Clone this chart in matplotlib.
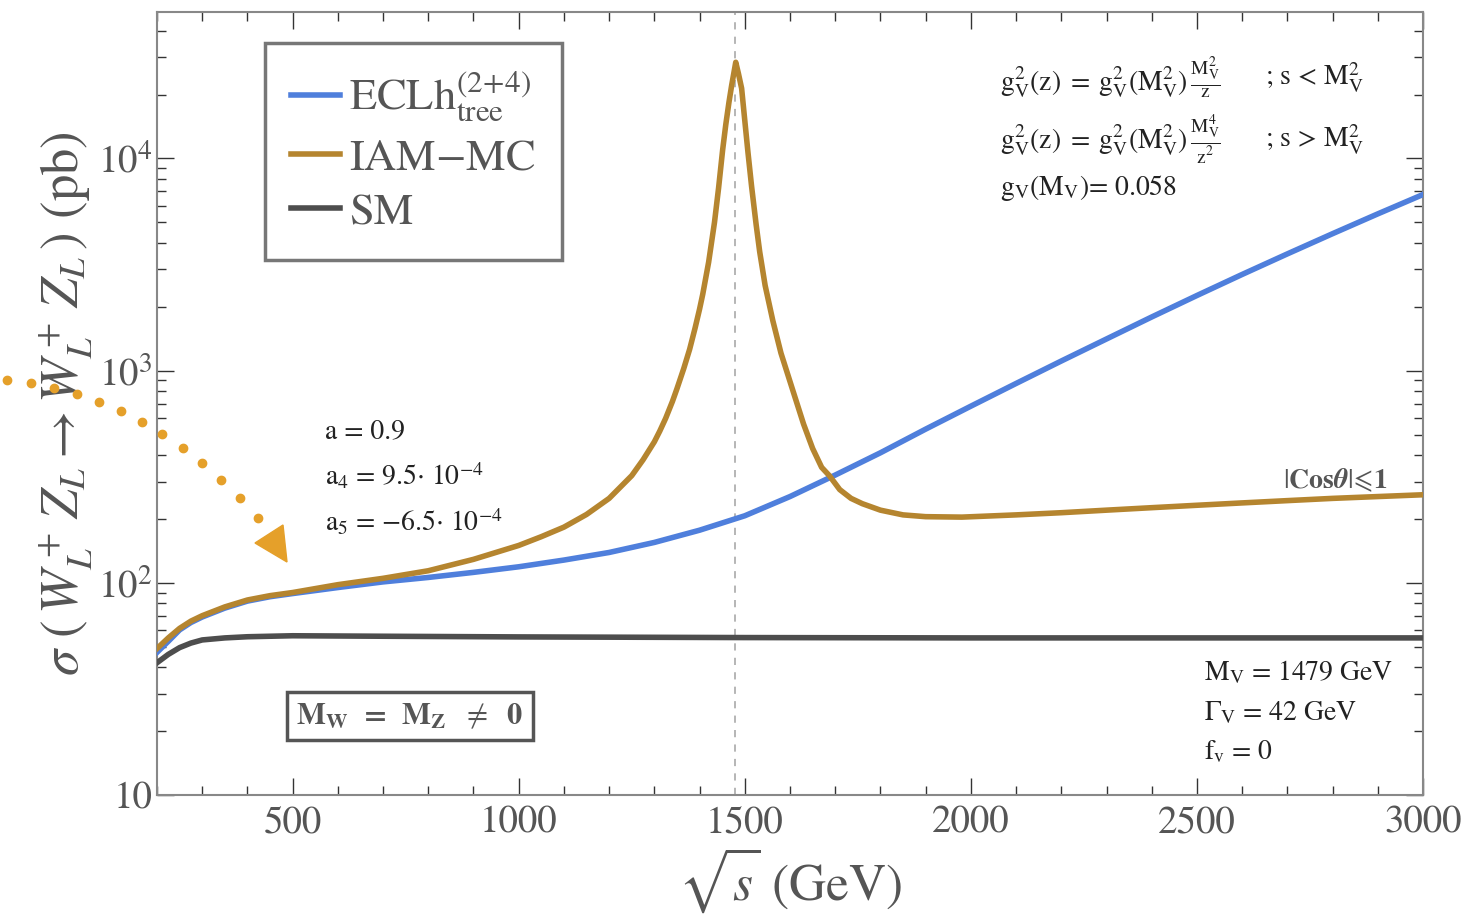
import numpy as np
import matplotlib
matplotlib.use("Agg")
import matplotlib.pyplot as plt
from matplotlib.ticker import FixedLocator, FuncFormatter, MultipleLocator
from matplotlib.patches import Polygon

plt.rcParams['font.family'] = ['STIXGeneral', 'DejaVu Serif']
plt.rcParams['mathtext.fontset'] = 'stix'

# values (sqrt(s) in GeV, sigma in pb)
x_ecl = [200, 225, 250, 275, 300, 350, 400, 450, 500, 600, 700, 800, 900, 1000, 1100, 1200,
         1300, 1400, 1500, 1600, 1700, 1800, 1900, 2000, 2100, 2200, 2300, 2400, 2500, 2600,
         2700, 2800, 2900, 3000]
y_ecl = [47, 53, 60, 65, 69, 76, 82, 86, 89, 95, 101, 106, 112, 119, 128, 139,
         155, 177, 207, 255, 322, 410, 530, 680, 870, 1110, 1410, 1790, 2260, 2840,
         3550, 4420, 5480, 6760]

x_iam = [200, 225, 250, 275, 300, 350, 400, 450, 500, 600, 700, 800, 900, 1000, 1050, 1100,
         1150, 1200, 1250, 1275, 1300, 1312, 1325, 1340, 1350, 1365, 1378, 1390, 1400, 1407,
         1420, 1433, 1442, 1451, 1458, 1465, 1471, 1476, 1480, 1486, 1493, 1500, 1507, 1515,
         1525, 1533, 1545, 1562, 1580, 1606, 1630, 1650, 1670, 1687, 1710, 1735, 1760, 1800,
         1850, 1900, 1980, 2100, 2200, 2300, 2400, 2500, 2600, 2700, 2800, 2900, 3000]
y_iam = [49, 55, 61, 66, 70, 77, 83, 87, 90, 98, 105, 114, 129, 150, 165, 183,
         210, 250, 320, 380, 462, 519, 596, 716, 822, 1023, 1260, 1585, 1950, 2290,
         3240, 5000, 7240, 10960, 14450, 18400, 22130, 25400, 28400, 25100, 21400, 15100, 10700, 7400,
         4900, 3630, 2520, 1720, 1210, 810, 560, 430, 350, 320, 275, 250, 236, 220,
         209, 205, 204, 209, 214, 220, 226, 232, 238, 244, 250, 255, 260]

x_sm = [200, 225, 250, 275, 300, 350, 400, 500, 700, 1000, 1500, 2000, 3000]
y_sm = [42, 46, 49.5, 52, 53.8, 55, 55.7, 56.3, 56, 55.6, 55.2, 55, 55]

m_v = 1479

fig = plt.figure(figsize=(14.68, 9.17), dpi=100)
ax = fig.add_axes([157/1468, 1-795/917, (1423-157)/1468, (795-12)/917])

blue = '#4f7fdc'
gold = '#b5852f'
dark = '#4d4d4d'
ax.axvline(m_v, color='#b0b0b0', ls=(0, (4, 4)), lw=1.3, zorder=1)
ax.plot(x_ecl, y_ecl, color=blue, lw=4, label=r'ECLh$^{(2\!+\!4)}_{\rm tree}$', zorder=3,
        solid_joinstyle='round')
ax.plot(x_iam, y_iam, color=gold, lw=4, label=r'IAM$-$MC', zorder=4, solid_joinstyle='round')
ax.plot(x_sm, y_sm, color=dark, lw=4, label='SM', zorder=3, solid_joinstyle='round')

ax.set_yscale('log')
ax.set_xlim(200, 3000)
ax.set_ylim(10, 4.9e4)
ax.xaxis.set_major_locator(FixedLocator([500, 1000, 1500, 2000, 2500, 3000]))
ax.xaxis.set_minor_locator(MultipleLocator(100))
ax.yaxis.set_major_locator(FixedLocator([10, 100, 1000, 10000]))
ax.yaxis.set_major_formatter(FuncFormatter(lambda v, p: '10' if v == 10 else r'$10^{%d}$' % round(np.log10(v))))
ax.tick_params(which='both', direction='in', top=True, right=True, color='#333333',
               labelsize=28, labelcolor='#555555', width=1)
ax.tick_params(which='major', length=12)
ax.tick_params(which='minor', length=6.5)
ax.tick_params(axis='x', pad=8)
for s in ax.spines.values():
    s.set_color('#888888')
    s.set_linewidth(1.5)

ax.set_xlabel(r'$\sqrt{s}$ (GeV)', fontsize=37, color='#555555', labelpad=3)
ax.set_ylabel(r'$\sigma\ (\,W_L^+\,Z_L \rightarrow W_L^+\,Z_L\,)$ (pb)', fontsize=38, color='#555555', labelpad=2)

leg = ax.legend(loc='upper left', bbox_to_anchor=(0.085, 0.96), fontsize=32, frameon=True,
                fancybox=False, handlelength=1.1, labelspacing=0.32, borderpad=0.6,
                handletextpad=0.2, borderaxespad=0)
leg.get_frame().set_edgecolor('#555555')
leg.get_frame().set_linewidth(2.5)
for t in leg.get_texts():
    t.set_color('#555555')

def fx(px):
    return px / 1468

def fy(py):
    return 1 - py / 917

tc = '#222222'
fs = 20
fig.text(fx(1000), fy(78), r'$\mathrm{g_V^2(z)}\;=\;\mathrm{g_V^2(M_V^2)}\,\frac{\mathrm{M_V^2}}{\mathrm{z}}$', fontsize=fs, color=tc, va='center')
fig.text(fx(1000), fy(140), r'$\mathrm{g_V^2(z)}\;=\;\mathrm{g_V^2(M_V^2)}\,\frac{\mathrm{M_V^4}}{\mathrm{z^2}}$', fontsize=fs, color=tc, va='center')
fig.text(fx(1265), fy(78), r'; s < M$_\mathrm{V}^2$', fontsize=fs, color=tc, va='center')
fig.text(fx(1265), fy(140), r'; s > M$_\mathrm{V}^2$', fontsize=fs, color=tc, va='center')
fig.text(fx(1000), fy(188), r'g$_\mathrm{V}$(M$_\mathrm{V}$)= 0.058', fontsize=fs, color=tc, va='center')

fig.text(fx(325), fy(432), 'a = 0.9', fontsize=fs, color=tc, va='center')
fig.text(fx(325), fy(476), r'a$_4$ = 9.5$\cdot$ 10$^{-4}$', fontsize=fs, color=tc, va='center')
fig.text(fx(325), fy(522), r'a$_5$ = $-$6.5$\cdot$ 10$^{-4}$', fontsize=fs, color=tc, va='center')

fig.text(fx(1204), fy(673), r'M$_\mathrm{V}$ = 1479 GeV', fontsize=fs, color=tc, va='center')
fig.text(fx(1204), fy(713), r'$\Gamma_\mathrm{V}$ = 42 GeV', fontsize=fs, color=tc, va='center')
fig.text(fx(1204), fy(752), r'f$_\mathrm{v}$ = 0', fontsize=fs, color=tc, va='center')

fig.text(fx(1283), fy(480), r'$|\mathbf{Cos}\boldsymbol{\theta}|\!\leqslant\!\mathbf{1}$', fontsize=20,
         color='#555555', va='center')

fig.text(fx(410), fy(716), r'$\mathbf{M_W}$  =  $\mathbf{M_Z}$  $\neq$  $\mathbf{0}$', fontsize=22,
         color='#555555', va='center', ha='center', fontweight='bold',
         bbox=dict(boxstyle='square,pad=0.3', fc='white', ec='#555555', lw=2.5))

# dotted curved arrow on the left
p0 = np.array([7, 380]); p1 = np.array([151, 395]); p2 = np.array([258, 518])
t = np.linspace(0, 1, 13)
pts = ((1-t)**2)[:, None]*p0 + (2*t*(1-t))[:, None]*p1 + (t**2)[:, None]*p2
orange = '#e5a02a'
fig.add_artist(plt.Line2D(fx(pts[:, 0]), fy(pts[:, 1]), ls='none', marker='o', ms=6,
                          color=orange, transform=fig.transFigure))
tri = Polygon([[fx(287), fy(562)], [fx(255), fy(543)], [fx(283), fy(525)]], closed=True,
              fc=orange, ec=orange, transform=fig.transFigure)
fig.add_artist(tri)

fig.savefig('out.png', dpi=100)
